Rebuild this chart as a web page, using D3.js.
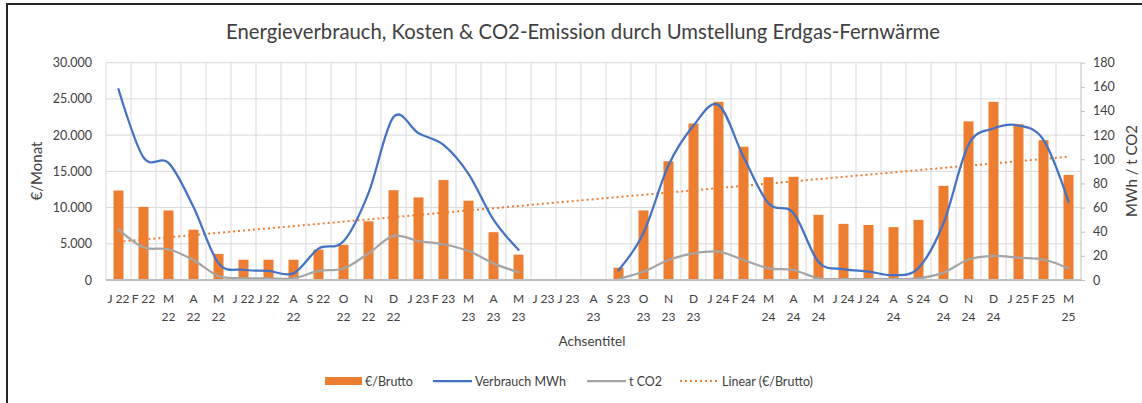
<!DOCTYPE html>
<html><head><meta charset="utf-8">
<script src="https://cdn.jsdelivr.net/npm/d3@7"></script>
<style>
html,body{margin:0;padding:0;background:#fff;}
svg{display:block;font-family:Lato,"Open Sans",sans-serif;}
</style></head>
<body>
<svg id="chart" width="1142" height="403"></svg>
<script>
// ---------- data ----------
const monthLabels = ["J 22","F 22","M 22","A 22","M 22","J 22","J 22","A 22","S 22","O 22","N 22","D 22",
  "J 23","F 23","M 23","A 23","M 23","J 23","J 23","A 23","S 23","O 23","N 23","D 23",
  "J 24","F 24","M 24","A 24","M 24","J 24","J 24","A 24","S 24","O 24","N 24","D 24",
  "J 25","F 25","M 25"];
const kostenBrutto = [12350,10100,9600,6950,3600,2800,2800,2800,4200,4850,8100,12400,
  11400,13800,10950,6600,3500,null,null,null,1700,9600,16400,21600,
  24600,18400,14200,14250,9000,7750,7600,7300,8300,13000,21900,24600,
  21500,19300,14500];
const verbrauchMWh = [158,101.5,97,60.5,14,8.5,7.5,5.5,26,32,72,135,
  121.5,112,88,50,25,null,null,null,8,39,95,128,
  145,102,63.5,55.5,15,9,7,4,10,47,112,125.5,
  128,116,65];
const tCO2 = [42,27,25.5,16.5,3.3,1.4,1.4,1.4,7.5,9.5,22,36.5,
  32.3,29.6,24,13.8,6.4,null,null,null,0.8,7,16.6,22,
  23.5,16.6,9.7,8.3,1.4,0.8,0.8,0.8,1.4,6.1,17,20,
  18.5,17,9.7];
const leftTicks = [0,5000,10000,15000,20000,25000,30000];
const rightTicks = [0,20,40,60,80,100,120,140,160,180];
const titleText = "Energieverbrauch, Kosten & CO2-Emission durch Umstellung Erdgas-Fernwärme";
const legendItems = ["€/Brutto","Verbrauch MWh","t CO2","Linear (€/Brutto)"];

// ---------- setup ----------
const C = {orange:"#ED7D31", blue:"#4472C4", gray:"#A5A5A5", grid:"#D9D9D9", axis:"#BFBFBF", text:"#404040"};
const svg = d3.select("#chart");
const m = {left:106, right:1081, top:62.7, bottom:280};
const idx = d3.range(monthLabels.length);

const x = d3.scaleBand().domain(idx).range([m.left, m.right]).paddingInner(0.6).paddingOuter(0.3);
const step = x.step();
const cx = i => x(i) + x.bandwidth()/2;
const yL = d3.scaleLinear().domain([0,30000]).range([m.bottom, m.top]);
const yR = d3.scaleLinear().domain([0,180]).range([m.bottom, m.top]);
const de = d3.formatLocale({decimal:",", thousands:".", grouping:[3], currency:["€",""]});
const fmt = de.format(",");

// frame
svg.append("line").attr("x1",7).attr("x2",1142).attr("y1",4).attr("y2",4).attr("stroke","#262626").attr("stroke-width",2);
svg.append("line").attr("x1",7).attr("x2",7).attr("y1",3).attr("y2",403).attr("stroke","#262626").attr("stroke-width",2);

// title
svg.append("text").attr("x",583).attr("y",38.5).attr("text-anchor","middle")
  .attr("font-size",20.3).attr("fill",C.text).text(titleText);

// grid
const g = svg.append("g");
g.selectAll(".hg").data(leftTicks.slice(1)).join("line")
  .attr("x1",m.left).attr("x2",m.right).attr("y1",d=>yL(d)).attr("y2",d=>yL(d))
  .attr("stroke",C.grid).attr("stroke-width",1);
const vEdges = idx.map(i => x(i) - step*0.3);
g.selectAll(".vg").data(vEdges).join("line")
  .attr("x1",d=>d).attr("x2",d=>d).attr("y1",m.top).attr("y2",m.bottom)
  .attr("stroke",C.grid).attr("stroke-width",1);

// bars
svg.append("g").selectAll("rect").data(idx.filter(i=>kostenBrutto[i]!=null)).join("rect")
  .attr("x",i=>x(i)).attr("width",x.bandwidth())
  .attr("y",i=>yL(kostenBrutto[i])).attr("height",i=>m.bottom - yL(kostenBrutto[i]))
  .attr("fill",C.orange);

// trendline (least squares on non-blank values, x = 1..n)
const pts = idx.filter(i=>kostenBrutto[i]!=null).map(i=>[i+1,kostenBrutto[i]]);
const mxv = d3.mean(pts,p=>p[0]), myv = d3.mean(pts,p=>p[1]);
const slope = d3.sum(pts,p=>(p[0]-mxv)*(p[1]-myv))/d3.sum(pts,p=>(p[0]-mxv)**2);
const icpt = myv - slope*mxv;
svg.append("line")
  .attr("x1",cx(0)).attr("y1",yL(icpt+slope*1))
  .attr("x2",cx(idx.length-1)).attr("y2",yL(icpt+slope*idx.length))
  .attr("stroke",C.orange).attr("stroke-width",2).attr("stroke-dasharray","2,3");

// lines
const mkLine = arr => d3.line().defined(i=>arr[i]!=null).x(i=>cx(i)).y(i=>yR(arr[i])).curve(d3.curveCatmullRom.alpha(0));
svg.append("path").datum(idx).attr("d",mkLine(tCO2)).attr("fill","none").attr("stroke",C.gray).attr("stroke-width",2.25).attr("stroke-linecap","round");
svg.append("path").datum(idx).attr("d",mkLine(verbrauchMWh)).attr("fill","none").attr("stroke",C.blue).attr("stroke-width",2.25).attr("stroke-linecap","round");

// axes lines
svg.append("line").attr("x1",m.left).attr("x2",m.right).attr("y1",m.bottom).attr("y2",m.bottom).attr("stroke",C.axis).attr("stroke-width",2);
const rAx = svg.append("g").attr("transform",`translate(${m.right},0)`)
  .call(d3.axisRight(yR).tickValues(rightTicks).tickSize(4).tickPadding(8));
rAx.select(".domain").attr("stroke",C.axis).attr("d",`M0,${m.top}V${m.bottom}`);
rAx.selectAll(".tick line").attr("stroke",C.axis);
rAx.selectAll("text").attr("fill",C.text).attr("font-size",12.5).attr("font-family","Lato");

const lAx = svg.append("g").attr("transform",`translate(${m.left},0)`)
  .call(d3.axisLeft(yL).tickValues(leftTicks).tickFormat(fmt).tickSize(0).tickPadding(14));
lAx.select(".domain").remove();
lAx.selectAll("text").attr("fill",C.text).attr("font-size",12.5).attr("font-family","Lato");

// x labels (wrap wide labels onto two lines, like the original)
const xl = svg.append("g").attr("font-size",12).attr("fill",C.text).attr("text-anchor","middle");
const probe = xl.append("text").text("A 22");
const wrapLimit = probe.node().getComputedTextLength() - 0.3;
probe.remove();
idx.forEach(i=>{
  const t = xl.append("text").attr("x",cx(i)).attr("y",303).text(monthLabels[i]);
  const w = t.node().getComputedTextLength();
  if (w > wrapLimit) {
    const parts = monthLabels[i].split(" ");
    t.text(parts[0]);
    xl.append("text").attr("x",cx(i)).attr("y",321).text(parts[1]);
  }
});

// axis titles
svg.append("text").attr("x",592).attr("y",346).attr("text-anchor","middle").attr("font-size",13.5).attr("fill",C.text).text("Achsentitel");
svg.append("text").attr("transform","translate(42,171) rotate(-90)").attr("text-anchor","middle").attr("font-size",15).attr("fill",C.text).text("€/Monat");
svg.append("text").attr("transform","translate(1137,171) rotate(-90)").attr("text-anchor","middle").attr("font-size",15).attr("fill",C.text).text("MWh / t CO2");

// legend
const lg = svg.append("g").attr("font-size",12.5).attr("fill",C.text);
const lx = [325,433,587,680];
lg.append("rect").attr("x",lx[0]).attr("y",377).attr("width",37).attr("height",8).attr("fill",C.orange);
lg.append("line").attr("x1",lx[1]).attr("x2",lx[1]+39).attr("y1",381).attr("y2",381).attr("stroke",C.blue).attr("stroke-width",2.25);
lg.append("line").attr("x1",lx[2]).attr("x2",lx[2]+39).attr("y1",381).attr("y2",381).attr("stroke",C.gray).attr("stroke-width",2.25);
lg.append("line").attr("x1",lx[3]).attr("x2",lx[3]+39).attr("y1",381).attr("y2",381).attr("stroke",C.orange).attr("stroke-width",2).attr("stroke-dasharray","2,3");
legendItems.forEach((s,k)=>{
  lg.append("text").attr("x",lx[k]+(k===0?40:42)).attr("y",385.5).text(s);
});
</script>
</body></html>
